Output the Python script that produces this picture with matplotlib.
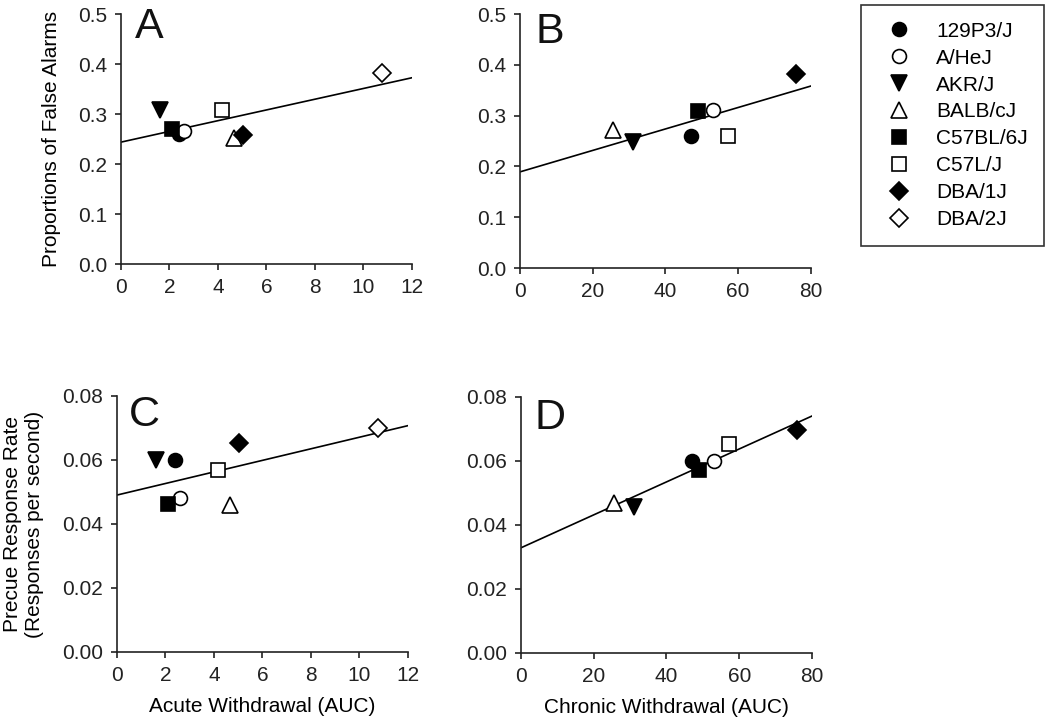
import numpy as np
import matplotlib.pyplot as plt
from matplotlib.lines import Line2D

plt.rcParams['font.family'] = ['Liberation Sans', 'DejaVu Sans']
plt.rcParams['font.size'] = 15

strains = ['129P3/J', 'A/HeJ', 'AKR/J', 'BALB/cJ', 'C57BL/6J', 'C57L/J', 'DBA/1J', 'DBA/2J']
markers = ['o', 'o', 'v', '^', 's', 's', 'D', 'D']
filled = [True, False, True, False, True, False, True, False]
msizes = [10, 10, 11, 11, 9.5, 9.5, 9, 9]

# acute withdrawal (AUC), all 8 strains
acute = [2.4, 2.6, 1.62, 4.68, 2.1, 4.18, 5.02, 10.75]
# chronic withdrawal (AUC), DBA/2J missing
chronic = [47.1, 53.1, 31.2, 25.6, 48.9, 57.3, 75.9, np.nan]

fa_A = [0.261, 0.266, 0.308, 0.252, 0.270, 0.309, 0.259, 0.383]
fa_B = [0.259, 0.312, 0.248, 0.272, 0.309, 0.259, 0.382, np.nan]
rate_C = [0.060, 0.048, 0.060, 0.046, 0.0463, 0.057, 0.0653, 0.0699]
rate_D = [0.060, 0.060, 0.0455, 0.0469, 0.0571, 0.0654, 0.0697, np.nan]

fig = plt.figure(figsize=(10.5, 7.22), dpi=100)

panels = [
    ('A', [0.1152, 0.6343, 0.2771, 0.3463], acute, fa_A, 12, 0.5, 0.1, '%.1f', (0.048, 0.905)),
    ('B', [0.4952, 0.6288, 0.2771, 0.3518], chronic, fa_B, 80, 0.5, 0.1, '%.1f', (0.052, 0.885)),
    ('C', [0.1114, 0.0970, 0.2771, 0.3546], acute, rate_C, 12, 0.08, 0.02, '%.2f', (0.041, 0.882)),
    ('D', [0.4962, 0.0956, 0.2771, 0.3546], chronic, rate_D, 80, 0.08, 0.02, '%.2f', (0.048, 0.875)),
]

for letter, pos, xs, ys, xmax, ymax, ystep, fmt, lpos in panels:
    ax = fig.add_axes(pos)
    xs = np.array(xs, dtype=float)
    ys = np.array(ys, dtype=float)
    ok = ~np.isnan(xs) & ~np.isnan(ys)
    slope, inter = np.polyfit(xs[ok], ys[ok], 1)
    xl = np.array([0, xmax])
    ax.plot(xl, inter + slope * xl, color='black', lw=1.2, zorder=2)
    for i in range(len(strains)):
        if not ok[i]:
            continue
        ax.plot(xs[i], ys[i], linestyle='None', marker=markers[i], ms=msizes[i],
                mfc='black' if filled[i] else 'white', mec='black', mew=1.2, zorder=3)
    ax.set_xlim(0, xmax)
    ax.set_ylim(0, ymax)
    ax.set_xticks(np.linspace(0, xmax, 7 if xmax == 12 else 5))
    ax.set_yticks(np.arange(0, ymax + ystep / 2, ystep))
    ax.yaxis.set_major_formatter(plt.FormatStrFormatter(fmt))
    ax.spines['top'].set_visible(False)
    ax.spines['right'].set_visible(False)
    for s in ['left', 'bottom']:
        ax.spines[s].set_linewidth(1.2)
        ax.spines[s].set_color('#222222')
    ax.tick_params(direction='out', length=4, width=1.2, pad=6, labelsize=15, colors='#222222')
    ax.text(lpos[0], lpos[1], letter, transform=ax.transAxes, fontsize=31,
            va='baseline', ha='left', color='#111111')
    if letter == 'A':
        ax.set_ylabel('Proportions of False Alarms', fontsize=15, labelpad=12)
    if letter == 'C':
        ax.set_ylabel('Precue Response Rate\n(Responses per second)', fontsize=15, labelpad=13,
                      linespacing=1.2)
        ax.set_xlabel('Acute Withdrawal (AUC)', fontsize=15, labelpad=9)
    if letter == 'D':
        ax.set_xlabel('Chronic Withdrawal (AUC)', fontsize=15, labelpad=9)

handles = [Line2D([], [], linestyle='None', marker=markers[i], ms=msizes[i],
                  mfc='black' if filled[i] else 'white', mec='black', mew=1.2)
           for i in range(len(strains))]
leg = fig.legend(handles, strains, loc='upper left', bbox_to_anchor=(0.82, 0.993),
                 frameon=True, fancybox=False, borderpad=0.8, borderaxespad=0,
                 handlelength=2.0, handletextpad=0.8, labelspacing=0.38, fontsize=15)
leg.get_frame().set_edgecolor('black')
leg.get_frame().set_linewidth(1.2)

fig.savefig('out.png', dpi=100)
